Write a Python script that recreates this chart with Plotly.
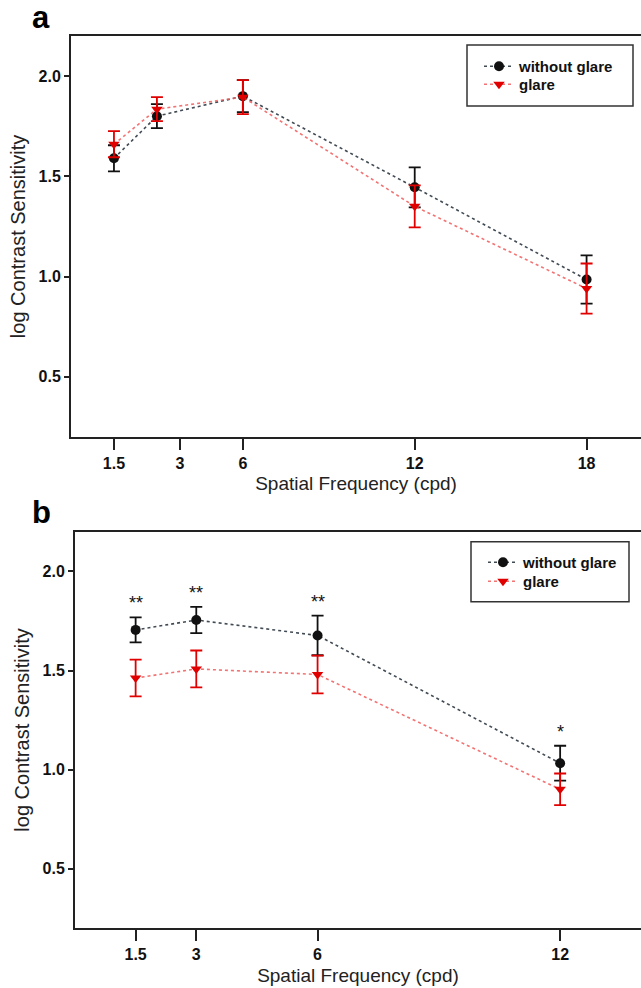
import plotly.graph_objects as go

# ---------------- data ----------------
freq_a = [1.5, 3, 6, 12, 18]
nog_a = [1.59, 1.80, 1.90, 1.445, 0.985]
nog_a_err = [0.065, 0.06, 0.08, 0.10, 0.12]
gl_a = [1.66, 1.835, 1.895, 1.35, 0.94]
gl_a_err = [0.065, 0.06, 0.085, 0.105, 0.125]

freq_b = [1.5, 3, 6, 12]
nog_b = [1.705, 1.755, 1.677, 1.032]
nog_b_err = [0.063, 0.066, 0.10, 0.088]
gl_b = [1.462, 1.508, 1.48, 0.90]
gl_b_err = [0.093, 0.093, 0.095, 0.08]
sig_b = ["**", "**", "**", "*"]

xtick_labels_a = ["1.5", "3", "6", "12", "18"]
xtick_pos_a = [1.5, 3.8, 6, 12, 18]
xtick_labels_b = ["1.5", "3", "6", "12"]
ytick_vals = [0.5, 1.0, 1.5, 2.0]

series_names = ["without glare", "glare"]

# ---------------- styles ----------------
FONT = "Liberation Sans, Arial, sans-serif"
BLACK = "#111111"
RED = "#e00000"
BLACK_LINE = "rgba(55,65,75,0.95)"
RED_LINE = "rgba(240,90,90,0.85)"
AX = "#222222"

fig = go.Figure()


def add_series(x, y, err, name, color, lcolor, symbol, xa, ya, legend, size):
    fig.add_trace(go.Scatter(
        x=x, y=y, name=name, mode="lines+markers",
        line=dict(color=lcolor, width=1.6, dash="dot"),
        marker=dict(color=color, symbol=symbol, size=size),
        error_y=dict(type="data", array=err, visible=True,
                     color=color, thickness=1.8, width=6),
        xaxis=xa, yaxis=ya, legend=legend,
    ))


add_series(freq_a, nog_a, nog_a_err, series_names[0], BLACK, BLACK_LINE,
           "circle", "x", "y", "legend", 10)
add_series(freq_a, gl_a, gl_a_err, series_names[1], RED, RED_LINE,
           "triangle-down", "x", "y", "legend2", 10)
add_series(freq_b, nog_b, nog_b_err, series_names[0], BLACK, BLACK_LINE,
           "circle", "x2", "y2", "legend3", 10)
add_series(freq_b, gl_b, gl_b_err, series_names[1], RED, RED_LINE,
           "triangle-down", "x2", "y2", "legend4", 10)

# significance markers
for xv, yv, ev, s in zip(freq_b, nog_b, nog_b_err, sig_b):
    fig.add_annotation(x=xv, y=yv + ev, xref="x2", yref="y2", text=s,
                       showarrow=False, yanchor="middle", yshift=14,
                       font=dict(family=FONT, size=18, color=BLACK))

# panel letters
fig.add_annotation(x=-0.072, y=1.021, xref="paper", yref="paper", text="<b>a</b>",
                   showarrow=False, xanchor="left", yanchor="middle",
                   font=dict(family=FONT, size=31, color="#000"))
fig.add_annotation(x=-0.072, y=0.466, xref="paper", yref="paper", text="<b>b</b>",
                   showarrow=False, xanchor="left", yanchor="middle",
                   font=dict(family=FONT, size=31, color="#000"))

tickfont = dict(family=FONT, size=16, color="#111", weight="bold")
xtitlefont = dict(family=FONT, size=19, color="#222")
ytitlefont = dict(family=FONT, size=20, color="#222")

xcommon = dict(showline=True, linecolor=AX, linewidth=2, mirror=True,
               ticks="outside", ticklen=11, tickwidth=2, tickcolor=AX,
               showgrid=False, zeroline=False, tickfont=tickfont,
               title=dict(text="Spatial Frequency (cpd)", font=xtitlefont, standoff=6))
ycommon = dict(showline=True, linecolor=AX, linewidth=2, mirror=False,
               ticks="outside", ticklen=5, tickwidth=2, tickcolor=AX,
               showgrid=False, zeroline=False, tickfont=tickfont,
               tickvals=ytick_vals, tickformat=".1f", range=[0.2, 2.2],
               title=dict(text="log Contrast Sensitivity", font=ytitlefont, standoff=8))

legend_common = dict(font=dict(family=FONT, size=15, color="#111", weight="bold"),
                     bgcolor="rgba(0,0,0,0)", borderwidth=0,
                     xanchor="left", yanchor="middle")

H = 892.0


def py(p):
    return (928 - p) / H


def px(p):
    return (p - 71) / 570.0


fig.update_layout(
    width=641, height=988,
    margin=dict(l=71, r=0, t=36, b=60),
    paper_bgcolor="white", plot_bgcolor="white",
    font=dict(family=FONT),
    xaxis=dict(domain=[0, 1], range=[0, 19.9], anchor="y",
               tickvals=xtick_pos_a, ticktext=xtick_labels_a, **xcommon),
    yaxis=dict(domain=[0.5506, 1.0], anchor="x", **ycommon),
    xaxis2=dict(domain=[0.007, 1], range=[0, 14], anchor="y2",
                tickvals=freq_b, ticktext=xtick_labels_b, **xcommon),
    yaxis2=dict(domain=[0, 0.4441], anchor="x2", **ycommon),
    legend=dict(x=px(479), y=py(66.5), **legend_common),
    legend2=dict(x=px(479), y=py(84.5), **legend_common),
    legend3=dict(x=px(483), y=py(562.5), **legend_common),
    legend4=dict(x=px(483), y=py(581.5), **legend_common),
    showlegend=True,
)

# legend frames
fig.add_shape(type="rect", xref="paper", yref="paper",
              x0=px(467), x1=px(633), y0=py(106), y1=py(45),
              line=dict(color="#333", width=1.5))
fig.add_shape(type="rect", xref="paper", yref="paper",
              x0=px(471), x1=px(629), y0=py(601.7), y1=py(541.7),
              line=dict(color="#333", width=1.5))

fig.write_html("out.html")
